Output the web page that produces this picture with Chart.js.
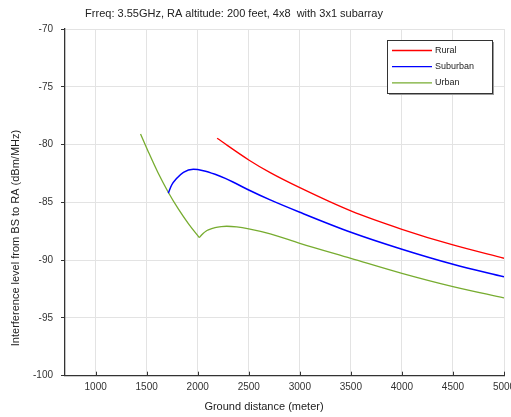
<!DOCTYPE html>
<html>
<head>
<meta charset="utf-8">
<script src="https://cdn.jsdelivr.net/npm/chart.js@4"></script>
<style>
  html, body { margin: 0; padding: 0; background: #fff; }
  #wrap { width: 511px; height: 417px; }
</style>
</head>
<body>
<div id="wrap"><canvas id="interferenceChart" width="511" height="417"></canvas></div>
<script>
// Chart data
const titleText = 'Frreq: 3.55GHz, RA altitude: 200 feet, 4x8  with 3x1 subarray';
const xLabel = 'Ground distance (meter)';
const yLabel = 'Interference level from BS to RA (dBm/MHz)';
const seriesNames = ['Rural', 'Suburban', 'Urban'];
const seriesColors = ['#ff0000', '#0000ff', '#77ac30'];

const ruralX = [2190, 2500, 2710, 3000, 3500, 4000, 4500, 5000];
const ruralY = [-79.46, -81.33, -82.43, -83.73, -85.74, -87.33, -88.69, -89.84];

const suburbanX = [1712, 1745, 1795, 1860, 1957, 2055, 2170, 2270, 2370, 2500, 2710, 3000, 3500, 4000, 4500, 5000];
const suburbanY = [-84.2, -83.5, -82.92, -82.4, -82.14, -82.26, -82.57, -82.92, -83.35, -83.93, -84.79, -85.86, -87.59, -89.06, -90.36, -91.45];

const urbanX = [1440, 1520, 1610, 1710, 1810, 1910, 2016, 2040, 2055, 2080, 2104, 2170, 2230, 2284, 2382, 2500, 2710, 3000, 3500, 4000, 4500, 5000];
const urbanY = [-79.08, -80.7, -82.42, -84.1, -85.57, -86.86, -88.05, -87.8, -87.67, -87.5, -87.39, -87.19, -87.1, -87.07, -87.13, -87.3, -87.73, -88.54, -89.84, -91.14, -92.29, -93.27];

const xTicks = [1000, 1500, 2000, 2500, 3000, 3500, 4000, 4500, 5000];
const yTicks = [-100, -95, -90, -85, -80, -75, -70];

const FONT = '"Liberation Sans", Arial, Helvetica, sans-serif';
const toPoints = (xs, ys) => xs.map((x, i) => ({ x: x, y: ys[i] }));

// urban curve has a sharp corner at its dip, so draw it as two smooth pieces
const urbanPoints = toPoints(urbanX, urbanY);
const dipIndex = urbanY.indexOf(Math.min(...urbanY.slice(0, 10)));

// Title, axis labels, legend box and inner x ticks
const overlayPlugin = {
    id: 'overlay',
    afterDraw(chart) {
        const ctx = chart.ctx;
        const area = chart.chartArea;
        const xScale = chart.scales.x;
        ctx.save();

        // inward tick marks on the bottom axis
        ctx.strokeStyle = '#333';
        ctx.lineWidth = 1;
        xTicks.forEach(v => {
            const px = Math.round(xScale.getPixelForValue(v)) + 0.5;
            ctx.beginPath();
            ctx.moveTo(px, area.bottom);
            ctx.lineTo(px, area.bottom - 4);
            ctx.stroke();
        });

        ctx.fillStyle = '#222';
        ctx.textAlign = 'center';
        ctx.textBaseline = 'middle';
        ctx.font = '11px ' + FONT;
        ctx.fillText(titleText, 234, 14);
        ctx.fillText(xLabel, 264, 407);

        ctx.save();
        ctx.translate(16, 238);
        ctx.rotate(-Math.PI / 2);
        ctx.fillText(yLabel, 0, 0);
        ctx.restore();

        // legend
        const lx = 387.5, ly = 40.5, lw = 105, lh = 53;
        ctx.fillStyle = '#9a9a9a';
        ctx.fillRect(lx + 1.5, ly + 1.5, lw, lh);
        ctx.fillStyle = '#fff';
        ctx.fillRect(lx, ly, lw, lh);
        ctx.strokeStyle = '#333';
        ctx.lineWidth = 1;
        ctx.strokeRect(lx, ly, lw, lh);

        ctx.font = '9px ' + FONT;
        ctx.textAlign = 'left';
        seriesNames.forEach((name, i) => {
            const rowY = 50.5 + i * 16.2;
            ctx.strokeStyle = seriesColors[i];
            ctx.lineWidth = 1.3;
            ctx.beginPath();
            ctx.moveTo(392, rowY);
            ctx.lineTo(432, rowY);
            ctx.stroke();
            ctx.fillStyle = '#222';
            ctx.fillText(name, 435, rowY);
        });

        ctx.restore();
    }
};

const ctx = document.getElementById('interferenceChart').getContext('2d');
const chart = new Chart(ctx, {
    type: 'scatter',
    data: {
        datasets: [
            { label: seriesNames[0], data: toPoints(ruralX, ruralY), borderColor: seriesColors[0] },
            { label: seriesNames[1], data: toPoints(suburbanX, suburbanY), borderColor: seriesColors[1], borderWidth: 1.5 },
            { label: seriesNames[2], data: urbanPoints.slice(0, dipIndex + 1), borderColor: seriesColors[2] },
            { label: seriesNames[2], data: urbanPoints.slice(dipIndex), borderColor: seriesColors[2] }
        ].map(ds => Object.assign({
            showLine: true,
            pointRadius: 0,
            pointHoverRadius: 0,
            borderWidth: 1.3,
            cubicInterpolationMode: 'monotone',
            fill: false
        }, ds))
    },
    options: {
        responsive: false,
        animation: false,
        events: [],
        layout: { padding: { top: 29, right: 7, left: 0, bottom: 0 } },
        plugins: {
            legend: { display: false },
            title: { display: false },
            tooltip: { enabled: false }
        },
        scales: {
            x: {
                type: 'linear',
                min: 700,
                max: 5000,
                afterBuildTicks: scale => {
                    scale.ticks = xTicks.map(v => ({ value: v }));
                },
                afterFit: scale => {
                    scale.height = 41.3;
                    scale.paddingRight = 0;
                    scale.paddingLeft = 0;
                },
                ticks: {
                    font: { family: FONT, size: 10 },
                    color: '#333',
                    padding: 6,
                    maxRotation: 0,
                    autoSkip: false,
                    callback: v => String(v)
                },
                grid: { color: '#e3e3e3', lineWidth: 1, drawTicks: false },
                border: { display: true, color: '#333', width: 1.3 }
            },
            y: {
                min: -100,
                max: -70,
                afterBuildTicks: scale => {
                    scale.ticks = yTicks.map(v => ({ value: v }));
                },
                afterFit: scale => {
                    scale.width = 65;
                    scale.paddingTop = 0;
                    scale.paddingBottom = 0;
                },
                ticks: {
                    font: { family: FONT, size: 10 },
                    color: '#333',
                    padding: 8,
                    callback: v => String(v)
                },
                grid: { color: '#e3e3e3', lineWidth: 1, tickLength: 4, tickColor: '#333' },
                border: { display: true, color: '#333', width: 1.3 }
            }
        }
    },
    plugins: [overlayPlugin]
});
</script>
</body>
</html>
